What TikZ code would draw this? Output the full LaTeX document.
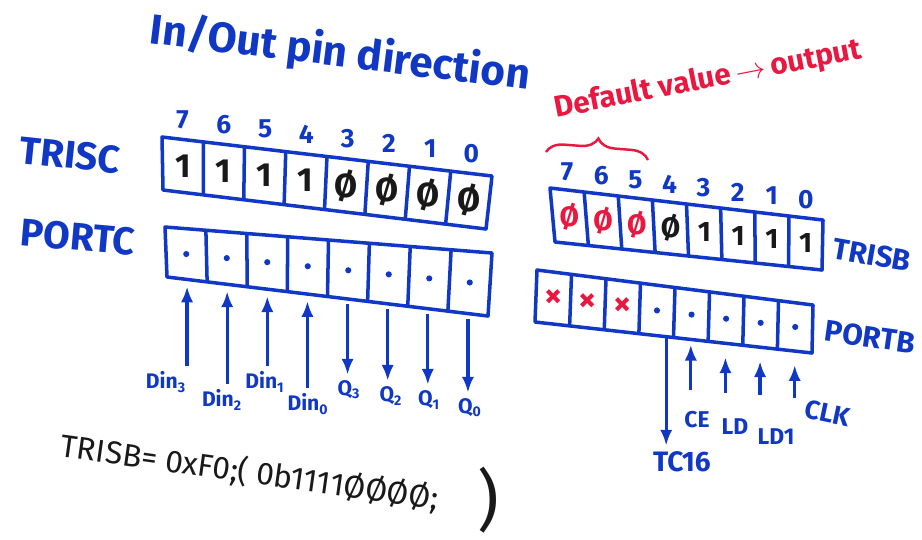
\documentclass[tikz,border=0pt]{standalone}
\usepackage{fontspec}
\setmainfont{Fira Sans}
\usetikzlibrary{calc,arrows.meta,decorations.pathreplacing}
\definecolor{markerblue}{RGB}{16, 56, 196}
\definecolor{markerred}{RGB}{232, 24, 64}
\definecolor{inkblack}{RGB}{25, 25, 25}

% register of 8 cells: #1 name, #2..#5 corners (top left, top right, bottom right, bottom left)
\newcommand{\regbox}[5]{
    \coordinate (#1-tl) at #2;
    \coordinate (#1-tr) at #3;
    \coordinate (#1-br) at #4;
    \coordinate (#1-bl) at #5;
    \draw[regline] (#1-tl) -- (#1-tr) -- (#1-br) -- (#1-bl) -- cycle;
    \foreach \k in {1,...,7}
        \draw[regline] ($(#1-tl)!{\k/8}!(#1-tr)$) -- ($(#1-bl)!{\k/8}!(#1-br)$);
    \foreach \k in {0,...,7} {
        \coordinate (#1-t\k) at ($(#1-tl)!{(7.5-\k)/8}!(#1-tr)$);
        \coordinate (#1-b\k) at ($(#1-bl)!{(7.5-\k)/8}!(#1-br)$);
        \coordinate (#1-c\k) at ($(#1-t\k)!0.5!(#1-b\k)$);
    }
}

\tikzset{
    regline/.style={draw=markerblue, line width=2pt, line join=round},
    bitno/.style={text=markerblue, font=\bfseries\fontsize{15}{15}\selectfont},
    cellval/.style={text=inkblack, font=\bfseries\fontsize{19}{19}\selectfont},
    pin/.style={circle, fill=markerblue, inner sep=0pt, minimum size=3.5pt},
    sig/.style={draw=markerblue, line width=1.8pt, -{Latex[length=9pt,width=7pt]}},
    reglabel/.style={text=markerblue, font=\bfseries\fontsize{22}{22}\selectfont},
    pinlabel/.style={text=markerblue, font=\bfseries\fontsize{12}{12}\selectfont},
}

\begin{document}
\begin{tikzpicture}[x=0.02cm, y=-0.02cm]
    \useasboundingbox (0,0) rectangle (922,539);

    \node[text=markerblue, font=\bfseries\fontsize{24}{24}\selectfont, rotate=-7] (title) at (340,54) {In/Out pin direction};

    % port C
    \regbox{trisc}{(162,137)}{(492,176)}{(486,229)}{(163,190)}
    \regbox{portc}{(165,227)}{(492,253)}{(488,316)}{(167,277)}
    \node[reglabel, rotate=-6] (trisc-name) at (70,155) {TRISC};
    \node[reglabel, rotate=-5] (portc-name) at (78,237) {PORTC};
    \foreach \k in {0,...,7}
        \node[bitno] (trisc-n\k) at ($(trisc-t\k)+(0,-20)$) {\k};
    \foreach \k/\v in {7/1,6/1,5/1,4/1,3/Ø,2/Ø,1/Ø,0/Ø}
        \node[cellval] (trisc-v\k) at (trisc-c\k) {\v};
    \foreach \k in {0,...,7}
        \node[pin] (portc-v\k) at (portc-c\k) {};

    \node[pinlabel] (din3) at (166,382) {Din\textsubscript{3}};
    \node[pinlabel] (din2) at (222,400) {Din\textsubscript{2}};
    \node[pinlabel] (din1) at (265,382) {Din\textsubscript{1}};
    \node[pinlabel] (din0) at (308,404) {Din\textsubscript{0}};
    \node[pinlabel] (q3) at (349,390) {Q\textsubscript{3}};
    \node[pinlabel] (q2) at (391,396) {Q\textsubscript{2}};
    \node[pinlabel] (q1) at (429,400) {Q\textsubscript{1}};
    \node[pinlabel] (q0) at (470,408) {Q\textsubscript{0}};
    \foreach \k/\lbl in {7/din3,6/din2,5/din1,4/din0}
        \draw[sig, shorten >=4pt] (portc-b\k |- \lbl.north) -- (portc-b\k);
    \foreach \k/\lbl in {3/q3,2/q2,1/q1,0/q0}
        \draw[sig, shorten <=3pt] (portc-b\k) -- (portc-b\k |- \lbl.north);

    \node[text=inkblack, font=\fontsize{18}{18}\selectfont, rotate=-8, anchor=west] (code) at (55,445) {TRISB= 0xF0;( 0b1111ØØØØ;};
    \node[text=inkblack, font=\fontsize{38}{38}\selectfont] (paren) at (488,500) {)};

    % port B
    \regbox{trisb}{(550,188)}{(823,220)}{(822,270)}{(555,242)}
    \regbox{portb}{(537,270)}{(813,305)}{(812,353)}{(535,322)}
    \node[reglabel, font=\bfseries\fontsize{17}{17}\selectfont, rotate=-10] (trisb-name) at (872,255) {TRISB};
    \node[reglabel, font=\bfseries\fontsize{17}{17}\selectfont, rotate=-8] (portb-name) at (870,337) {PORTB};
    \foreach \k in {0,...,7}
        \node[bitno] (trisb-n\k) at ($(trisb-t\k)+(0,-18)$) {\k};
    \foreach \k/\v in {7/Ø,6/Ø,5/Ø}
        \node[cellval, text=markerred, font=\bfseries\fontsize{16}{16}\selectfont] (trisb-v\k) at (trisb-c\k) {\v};
    \foreach \k/\v in {4/Ø,3/1,2/1,1/1,0/1}
        \node[cellval, font=\bfseries\fontsize{16}{16}\selectfont] (trisb-v\k) at (trisb-c\k) {\v};
    \foreach \k in {7,6,5}
        \node[text=markerred, font=\bfseries\fontsize{20}{20}\selectfont] (portb-v\k) at (portb-c\k) {×};
    \foreach \k in {0,...,4}
        \node[pin] (portb-v\k) at (portb-c\k) {};

    % default value brace
    \coordinate (dflt-l) at (546,152);
    \coordinate (dflt-r) at (648,160);
    \draw[draw=markerred, line width=1.4pt, decorate, decoration={brace, amplitude=10pt}] (dflt-l) -- (dflt-r);
    \node[text=markerred, font=\bfseries\fontsize{17}{17}\selectfont, rotate=11] (dflt) at (708,80) {Default value\,$\rightarrow$\,output};

    \node[pinlabel, font=\bfseries\fontsize{16}{16}\selectfont] (tc16) at (682,462) {TC16};
    \node[pinlabel, font=\bfseries\fontsize{13}{13}\selectfont] (ce) at (697,420) {CE};
    \node[pinlabel, font=\bfseries\fontsize{13}{13}\selectfont] (ld) at (735,427) {LD};
    \node[pinlabel, font=\bfseries\fontsize{13}{13}\selectfont] (ld1) at (776,437) {LD1};
    \node[pinlabel, font=\bfseries\fontsize{15}{15}\selectfont, rotate=-12] (clk) at (828,413) {CLK};
    \coordinate (tc16-src) at ($(portb-b4)+(10,0)$);
    \draw[sig] (tc16-src) -- (tc16-src |- tc16.north);
    \draw[sig, shorten >=3pt] ($(portb-b3 |- ce.north)+(0,-16)$) -- (portb-b3);
    \draw[sig, shorten >=8pt] ($(portb-b2 |- ld.north)+(0,-20)$) -- (portb-b2);
    \draw[sig, shorten >=8pt] ($(portb-b1 |- ld1.north)+(0,-28)$) -- (portb-b1);
    \draw[sig, shorten >=8pt] (portb-b0 |- clk.north) -- (portb-b0);
\end{tikzpicture}
\end{document}
